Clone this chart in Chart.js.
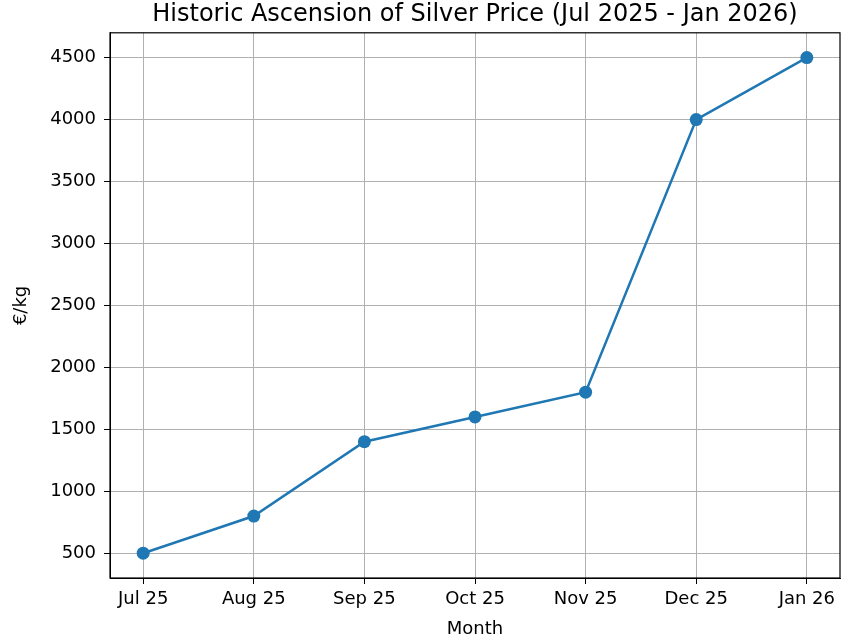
<!DOCTYPE html>
<html lang="en">
<head>
    <meta charset="UTF-8">
    <title>Historic Ascension of Silver Price</title>
    <script src="https://cdn.jsdelivr.net/npm/chart.js"></script>
    <style>
        body { margin: 0; background: white; }
        .wrap { width: 854px; height: 640px; }
    </style>
</head>
<body>
    <div class="wrap"><canvas id="silverChart" width="854" height="640"></canvas></div>

    <script>
        // data
        const months = ["Jul 25", "Aug 25", "Sep 25", "Oct 25", "Nov 25", "Dec 25", "Jan 26"];
        const prices = [500, 800, 1400, 1600, 1800, 4000, 4500];
        const yTicks = [500, 1000, 1500, 2000, 2500, 3000, 3500, 4000, 4500];

        const blue = "#1f77b4";
        const font = "'DejaVu Sans', sans-serif";

        // matplotlib-like box around the plot area
        const frame = {
            id: "frame",
            afterDraw(chart) {
                const a = chart.chartArea, ctx = chart.ctx;
                ctx.save();
                ctx.strokeStyle = "#000";
                ctx.lineWidth = 1.2;
                ctx.strokeRect(a.left, a.top, a.right - a.left, a.bottom - a.top);
                ctx.restore();
            }
        };

        new Chart(document.getElementById("silverChart"), {
            type: "line",
            data: {
                datasets: [{
                    data: prices.map((p, i) => ({ x: i, y: p })),
                    borderColor: blue,
                    backgroundColor: blue,
                    borderWidth: 2.5,
                    pointRadius: 6.5,
                    pointHoverRadius: 6.5,
                    pointBorderWidth: 0,
                    tension: 0
                }]
            },
            options: {
                responsive: false,
                animation: false,
                layout: { padding: { right: 14, left: 0, top: 0, bottom: 0 } },
                plugins: {
                    legend: { display: false },
                    tooltip: { enabled: false },
                    title: {
                        display: true,
                        fullSize: false,
                        text: "Historic Ascension of Silver Price (Jul 2025 - Jan 2026)",
                        color: "#000",
                        font: { family: font, size: 24, weight: "normal" },
                        padding: { top: 0, bottom: 4 }
                    }
                },
                scales: {
                    x: {
                        type: "linear",
                        min: -0.3,
                        max: 6.3,
                        afterBuildTicks: s => { s.ticks = months.map((m, i) => ({ value: i })); },
                        afterFit: s => { s.height = 62; },
                        ticks: {
                            callback: v => months[v],
                            color: "#000",
                            font: { family: font, size: 18 },
                            padding: 5,
                            maxRotation: 0
                        },
                        grid: { color: "#b0b0b0", tickColor: "#000", tickLength: 6, lineWidth: 1 },
                        border: { color: "#000" },
                        title: {
                            display: true,
                            text: "Month",
                            color: "#000",
                            font: { family: font, size: 18 },
                            padding: { top: 2, bottom: 0 }
                        }
                    },
                    y: {
                        min: 300,
                        max: 4700,
                        afterBuildTicks: s => { s.ticks = yTicks.map(v => ({ value: v })); },
                        afterFit: s => { s.width = 110; },
                        ticks: {
                            callback: v => String(v),
                            color: "#000",
                            font: { family: font, size: 18 },
                            padding: 8
                        },
                        grid: { color: "#b0b0b0", tickColor: "#000", tickLength: 6, lineWidth: 1 },
                        border: { color: "#000" },
                        title: {
                            display: true,
                            text: "€/kg",
                            color: "#000",
                            font: { family: font, size: 18 },
                            padding: { top: 11, bottom: 0 }
                        }
                    }
                }
            },
            plugins: [frame]
        });
    </script>
</body>
</html>
